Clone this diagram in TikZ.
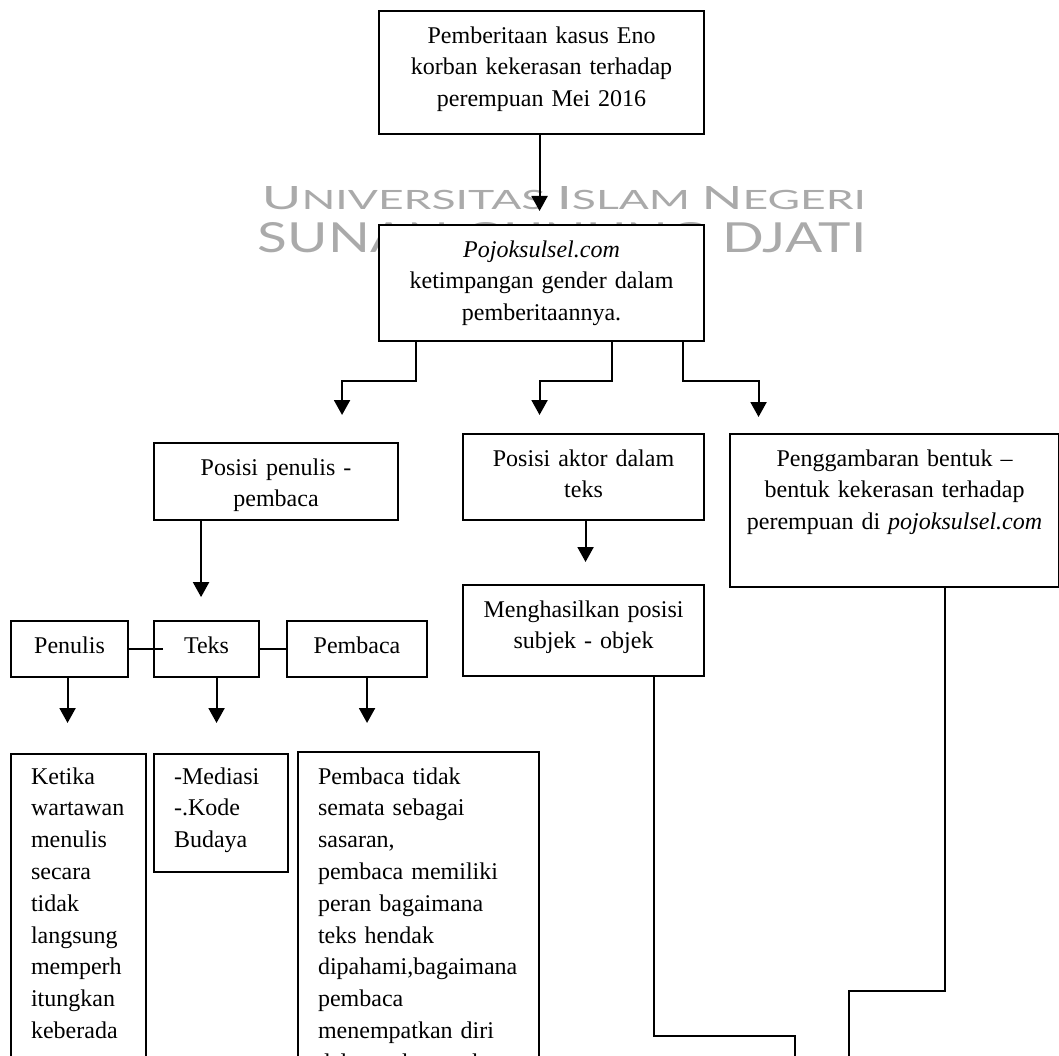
\documentclass[tikz,border=0pt]{standalone}
\usepackage{fontspec}
\setmainfont{Liberation Serif}
\newfontfamily\wmfont{Lato}
\usepackage{graphicx}
\usepackage{tikz}
\usetikzlibrary{arrows.meta,positioning}
\definecolor{wmgray}{RGB}{170,170,170}
\hyphenpenalty=10000
\exhyphenpenalty=10000
\newcommand{\wmcap}[1]{{\fontsize{29pt}{29pt}\selectfont #1}}
\tikzstyle{arrow} = [line width=2.1pt,-{Triangle[width=16pt,length=15pt]}]
\tikzstyle{link} = [line width=2.1pt]
\tikzstyle{box} = [rectangle, draw, fill=white, line width=2.1pt, anchor=north west, inner sep=0pt, text height=32pt, align=center, font=\fontsize{24pt}{31.8pt}\selectfont]
\tikzstyle{notebox} = [box, align=left, inner xsep=20pt, text height=30pt]
\tikzstyle{watermark} = [anchor=base, text=wmgray, inner sep=0pt, font=\wmfont\fontsize{24pt}{24pt}\selectfont]

\begin{document}
\begin{tikzpicture}[x=1pt, y=-1pt]
\useasboundingbox (0,0) rectangle (1059,1056);
\clip (0,0) rectangle (1059,1056);

% Watermark
\node (wmtop) [watermark] at (564,210) {\resizebox{604pt}{23pt}{\wmcap{U}NIVERSITAS \wmcap{I}SLAM \wmcap{N}EGERI}};
\node (wmbot) [watermark] at (562,253) {\resizebox{608pt}{30pt}{SUNAN GUNUNG DJATI}};

% Main chain
\node (top) [box, text width=325pt, text depth=91pt] at (378,10) {Pemberitaan kasus Eno\\korban kekerasan terhadap\\perempuan Mei 2016};
\node (media) [box, text width=325pt, text depth=84pt] at (378,224) {\textit{Pojoksulsel.com}\\ketimpangan gender dalam\\pemberitaannya.};

% Three branches
\node (posisi) [box, text width=244pt, text depth=45pt] at (153,442) {Posisi penulis -\\pembaca};
\node (aktor) [box, text width=241pt, text depth=54pt] at (462,433) {Posisi aktor dalam\\teks};
\node (hasil) [box, text width=241pt, text depth=59pt] at (462,584) {Menghasilkan posisi\\subjek - objek};
\node (bentuk) [box, text width=329pt, text depth=121pt] at (729,433) {Penggambaran bentuk --\\bentuk kekerasan terhadap\\perempuan di \textit{pojoksulsel.com}};

% Writer - text - reader
\node (penulis) [box, text width=117pt, text depth=24pt] at (10,620) {Penulis};
\node (teks) [box, text width=105pt, text depth=24pt] at (153,620) {Teks};
\node (pembaca) [box, text width=140pt, text depth=24pt] at (286,620) {Pembaca};

\node (ketika) [notebox, text width=95pt, text depth=370pt] at (10,753) {Ketika\\wartawan\\menulis\\secara\\tidak\\langsung\\memperh\\itungkan\\keberada};
\node (mediasi) [notebox, text width=94pt, text depth=88pt] at (153,753) {-Mediasi\\-.Kode\\Budaya};
\node (peran) [notebox, text width=201pt, text height=32pt, text depth=368pt] at (297,751) {Pembaca tidak\\semata sebagai\\sasaran,\\pembaca memiliki\\peran bagaimana\\teks hendak\\dipahami,bagaimana\\pembaca\\menempatkan diri\\dalam teks pembaca};

\coordinate (endA) at (795,1070);
\coordinate (endB) at (849,1070);

\draw[arrow, shorten >=13pt] ([xshift=-2pt]top.south) -- ([xshift=-2pt]media.north);
\draw[arrow, shorten >=27pt] ([xshift=38pt]media.south west) -- ++(0,39) -| ([xshift=66pt]posisi.north);
\draw[arrow, shorten >=18pt] ([xshift=234pt]media.south west) -- ++(0,39) -| ([xshift=-44pt]aktor.north);
\draw[arrow, shorten >=16pt] ([xshift=305pt]media.south west) -- ++(0,39) -| ([xshift=-136pt]bentuk.north);

\draw[arrow, shorten >=25pt] ([xshift=-75pt]posisi.south) -- ++(0,101);
\draw[arrow, shorten >=22pt] ([xshift=2pt]aktor.south) -- ([xshift=2pt]hasil.north);

\draw[link] (penulis.east) -- ([xshift=10pt]teks.west);
\draw[link] (teks.east) -- (pembaca.west);
\draw[arrow, shorten >=30pt] ([xshift=-2pt]penulis.south) -- ([xshift=-11pt]ketika.north);
\draw[arrow, shorten >=30pt] ([xshift=10pt]teks.south) -- ([xshift=-4.5pt]mediasi.north);
\draw[arrow, shorten >=28pt] ([xshift=10pt]pembaca.south) -- ([xshift=-51.5pt]peran.north);

\draw[link] ([xshift=70pt]hasil.south) -- ++(0,359) -| (endA);
\draw[link] ([xshift=50pt]bentuk.south) -- ++(0,403) -| (endB);
\end{tikzpicture}
\end{document}
